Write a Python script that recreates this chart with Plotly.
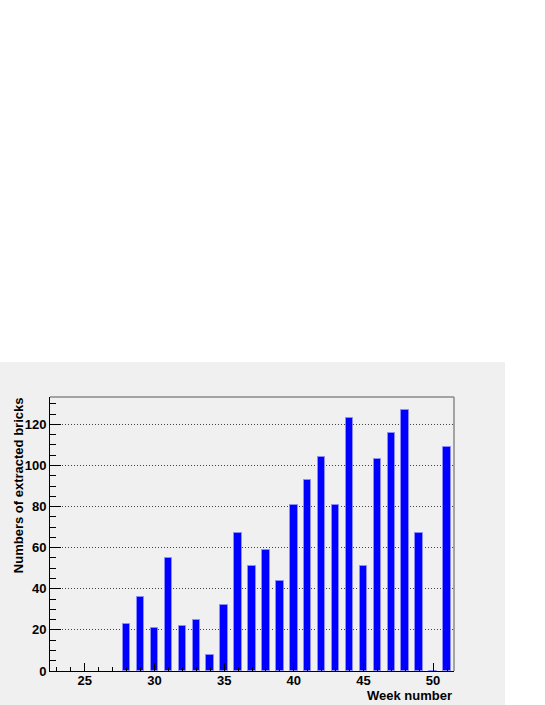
"""Bricks extracted per week."""
import plotly.graph_objects as go

weeks = list(range(28, 52))
bricks = [23, 36, 21, 55, 22, 25, 8, 32, 67, 51, 59, 44,
          81, 93, 104, 81, 123, 51, 103, 116, 127, 67, 0, 109]
x_ticks = [25, 30, 35, 40, 45, 50]
y_ticks = [0, 20, 40, 60, 80, 100, 120]

PANEL = "#f0f0f0"
FONT = "Liberation Sans, Arial, sans-serif"

fig = go.Figure(
    go.Bar(
        x=weeks, y=bricks, width=0.54,
        marker=dict(color="#0000ff", line=dict(color="#8c8cff", width=1)),
    )
)

# panel grigio dietro al frame (stile ROOT)
fig.add_shape(
    type="rect", xref="paper", yref="paper", layer="below",
    x0=-50 / 404, x1=455 / 404, y0=-34 / 274, y1=309 / 274,
    fillcolor=PANEL, line_width=0,
)
# bordo superiore e destro del frame
fig.add_shape(type="line", xref="paper", yref="paper", x0=0, x1=1, y0=1, y1=1,
              line=dict(color="#8a8a8a", width=1.5))
fig.add_shape(type="line", xref="paper", yref="paper", x0=1, x1=1, y0=0, y1=1,
              line=dict(color="#8a8a8a", width=1.5))

fig.add_annotation(
    text="Numbers of extracted bricks", textangle=-90,
    xref="paper", yref="paper", x=-31.5 / 404, y=1.005,
    xanchor="center", yanchor="top", showarrow=False,
    font=dict(family=FONT, size=13, color="black", weight="bold"),
)
fig.add_annotation(
    text="Week number", xref="paper", yref="paper", x=1, y=-24 / 274,
    xanchor="right", yanchor="middle", showarrow=False,
    font=dict(family=FONT, size=13, color="black", weight="bold"),
)

fig.update_layout(
    width=545, height=705,
    margin=dict(l=50, r=91, t=397, b=34),
    paper_bgcolor="white", plot_bgcolor=PANEL,
    showlegend=False, bargap=0,
)
fig.update_xaxes(
    range=[22.5, 51.5], tickvals=x_ticks, ticks="inside", ticklen=8,
    tickcolor="black", showgrid=False, zeroline=False,
    showline=True, linecolor="black", linewidth=1, ticklabelstandoff=-3,
    minor=dict(dtick=1, tick0=0, ticks="inside", ticklen=4, tickcolor="black"),
    tickfont=dict(family=FONT, size=13, color="black", weight="bold"),
)
fig.update_yaxes(
    range=[0, 133.35], tickvals=y_ticks, ticks="inside", ticklen=11,
    tickcolor="black", showgrid=True, gridcolor="#444444", griddash="1px,2px",
    gridwidth=1, zeroline=False, showline=True, linecolor="black", linewidth=1,
    minor=dict(dtick=5, tick0=0, ticks="inside", ticklen=6, tickcolor="black"),
    tickfont=dict(family=FONT, size=13, color="black", weight="bold"),
)

fig.write_html(
    "out.html",
    config={"displayModeBar": False},
    post_script="document.body.style.margin = '0';",
)
